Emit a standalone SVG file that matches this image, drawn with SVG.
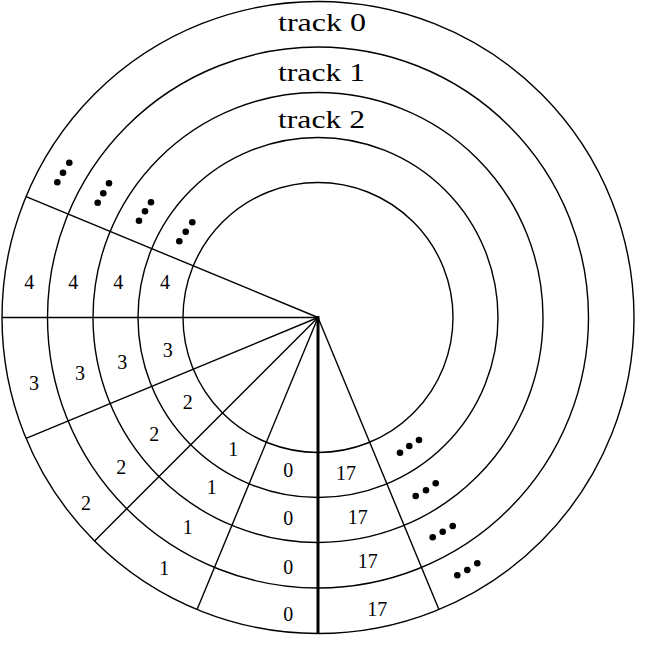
<svg xmlns="http://www.w3.org/2000/svg" width="652" height="658" viewBox="0 0 652 658">
<style>
.ring{fill:none;stroke:#000;stroke-width:1.4}
.rad{stroke:#000;stroke-width:1.4;fill:none}
.axis{stroke:#000;stroke-width:3;fill:none}
.num{font-family:"Liberation Serif","Times New Roman",serif;font-size:20px;fill:#000;text-anchor:middle}
.trk{font-family:"Liberation Serif","Times New Roman",serif;font-size:26px;fill:#000;text-anchor:middle}
.dot{fill:#000}
</style>
<rect width="652" height="658" fill="#fff"/>
<g id="tracks">
<circle class="ring" cx="318" cy="317.5" r="316"/>
<circle class="ring" cx="318" cy="317.5" r="270.5"/>
<circle class="ring" cx="318" cy="317.5" r="225"/>
<circle class="ring" cx="318" cy="317.5" r="180"/>
<circle class="ring" cx="318" cy="317.5" r="135"/>
</g>
<g id="connectors">
<line class="rad" x1="318" y1="317.5" x2="26.05" y2="196.57"/>
<line class="rad" x1="318" y1="317.5" x2="2" y2="317.5"/>
<line class="rad" x1="318" y1="317.5" x2="26.05" y2="438.43"/>
<line class="rad" x1="318" y1="317.5" x2="94.55" y2="540.95"/>
<line class="rad" x1="318" y1="317.5" x2="197.07" y2="609.45"/>
<line class="rad" x1="318" y1="317.5" x2="438.93" y2="609.45"/>
<line class="axis" x1="318" y1="316" x2="318" y2="633.5"/>
</g>
<g id="track-labels">
<text class="trk" x="322" y="31" textLength="88" lengthAdjust="spacingAndGlyphs">track 0</text>
<text class="trk" x="321.5" y="80.5" textLength="87" lengthAdjust="spacingAndGlyphs">track 1</text>
<text class="trk" x="321.5" y="128" textLength="87" lengthAdjust="spacingAndGlyphs">track 2</text>
</g>
<g id="sector-4">
<text class="num" x="29.3" y="288.5">4</text>
<text class="num" x="73.3" y="288.5">4</text>
<text class="num" x="118.3" y="288.5">4</text>
<text class="num" x="165" y="288.5">4</text>
</g>
<g id="sector-3">
<text class="num" x="34" y="390">3</text>
<text class="num" x="80" y="379.5">3</text>
<text class="num" x="122.3" y="368.5">3</text>
<text class="num" x="167.7" y="357">3</text>
</g>
<g id="sector-2">
<text class="num" x="187.7" y="409">2</text>
<text class="num" x="154.3" y="441">2</text>
<text class="num" x="121.2" y="473.5">2</text>
<text class="num" x="86" y="509.5">2</text>
</g>
<g id="sector-1">
<text class="num" x="233.3" y="456">1</text>
<text class="num" x="211.7" y="493.5">1</text>
<text class="num" x="187.7" y="533.5">1</text>
<text class="num" x="164.3" y="575">1</text>
</g>
<g id="sector-0">
<text class="num" x="288.3" y="477">0</text>
<text class="num" x="288.3" y="525">0</text>
<text class="num" x="288.3" y="573.5">0</text>
<text class="num" x="288.3" y="621">0</text>
</g>
<g id="sector-17">
<text class="num" x="346" y="479.5">17</text>
<text class="num" x="357.7" y="524">17</text>
<text class="num" x="367.7" y="567.5">17</text>
<text class="num" x="377.3" y="616">17</text>
</g>
<g id="ellipsis-left">
<circle class="dot" cx="69.3" cy="162.7" r="3.3"/><circle class="dot" cx="63" cy="172.7" r="3.3"/><circle class="dot" cx="57.3" cy="182.3" r="3.3"/>
<circle class="dot" cx="109" cy="183.3" r="3.3"/><circle class="dot" cx="103.3" cy="193.3" r="3.3"/><circle class="dot" cx="97.7" cy="202.7" r="3.3"/>
<circle class="dot" cx="151" cy="202.3" r="3.3"/><circle class="dot" cx="145" cy="211.3" r="3.3"/><circle class="dot" cx="139" cy="220.7" r="3.3"/>
<circle class="dot" cx="192.3" cy="222.3" r="3.3"/><circle class="dot" cx="185.7" cy="231.7" r="3.3"/><circle class="dot" cx="179.3" cy="241.3" r="3.3"/>
</g>
<g id="ellipsis-right">
<circle class="dot" cx="419" cy="440" r="3.3"/><circle class="dot" cx="409.3" cy="446" r="3.3"/><circle class="dot" cx="400" cy="452.7" r="3.3"/>
<circle class="dot" cx="435.7" cy="483.3" r="3.3"/><circle class="dot" cx="426" cy="490.3" r="3.3"/><circle class="dot" cx="415.7" cy="496" r="3.3"/>
<circle class="dot" cx="452.7" cy="526" r="3.3"/><circle class="dot" cx="442.7" cy="531.7" r="3.3"/><circle class="dot" cx="432.7" cy="537.3" r="3.3"/>
<circle class="dot" cx="477.3" cy="563.3" r="3.3"/><circle class="dot" cx="467.3" cy="570" r="3.3"/><circle class="dot" cx="457.3" cy="575.3" r="3.3"/>
</g>
</svg>
